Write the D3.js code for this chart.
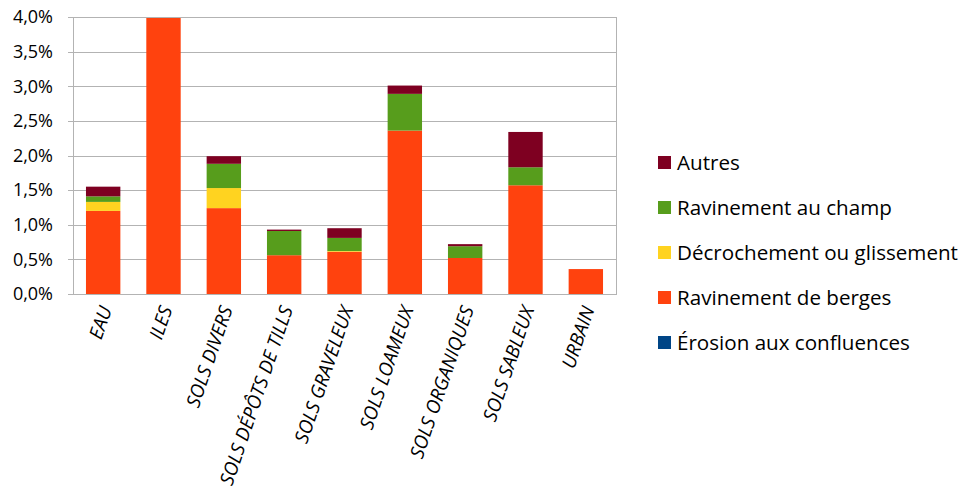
<!DOCTYPE html>
<html>
<head>
<meta charset="utf-8">
<script src="https://cdn.jsdelivr.net/npm/d3@7"></script>
<style>
  html, body { margin: 0; padding: 0; background: #fff; }
  svg { display: block; font-family: "Open Sans", sans-serif; }
</style>
</head>
<body>
<svg id="chart" width="967" height="500"></svg>
<script>
// Land-cover categories along the x axis
const categories = ["EAU", "ILES", "SOLS DIVERS", "SOLS DÉPÔTS DE TILLS", "SOLS GRAVELEUX",
  "SOLS LOAMEUX", "SOLS ORGANIQUES", "SOLS SABLEUX", "URBAIN"];

// Stacked series (percent), bottom to top
const erosionConfluences = [0, 0, 0, 0, 0, 0, 0, 0, 0];
const ravinementBerges   = [1.20, 4.00, 1.24, 0.56, 0.61, 2.36, 0.52, 1.57, 0.36];
const decrochement       = [0.13, 0, 0.29, 0, 0.01, 0, 0, 0, 0];
const ravinementChamp    = [0.08, 0, 0.35, 0.35, 0.19, 0.53, 0.17, 0.26, 0];
const autres             = [0.14, 0, 0.11, 0.02, 0.14, 0.12, 0.03, 0.51, 0];

const yTicks = [0, 0.5, 1.0, 1.5, 2.0, 2.5, 3.0, 3.5, 4.0];

const series = [
  { name: "Érosion aux confluences", values: erosionConfluences, color: "#004586" },
  { name: "Ravinement de berges", values: ravinementBerges, color: "#ff420e" },
  { name: "Décrochement ou glissement", values: decrochement, color: "#ffd320" },
  { name: "Ravinement au champ", values: ravinementChamp, color: "#579d1c" },
  { name: "Autres", values: autres, color: "#7e0021" }
];

const rows = categories.map((c, i) => {
  const r = { cat: c };
  series.forEach(s => r[s.name] = s.values[i]);
  return r;
});

const svg = d3.select("#chart");
const m = { left: 73, top: 17, right: 616, bottom: 294 };

const x = d3.scaleBand().domain(categories).range([m.left, m.right])
  .paddingInner(0.43).paddingOuter(0.215);
const y = d3.scaleLinear().domain([0, 4]).range([m.bottom, m.top]);

// Horizontal gridlines
svg.append("g").selectAll("line").data(yTicks).join("line")
  .attr("x1", m.left - 5).attr("x2", m.right)
  .attr("y1", d => Math.round(y(d)) + 0.5).attr("y2", d => Math.round(y(d)) + 0.5)
  .attr("stroke", "#b3b3b3").attr("stroke-width", 1);

// Stacked bars
const stack = d3.stack().keys(series.map(s => s.name));
const stacked = stack(rows);
svg.append("g").selectAll("g").data(stacked).join("g")
  .attr("fill", (d, i) => series[i].color)
  .selectAll("rect").data(d => d).join("rect")
  .attr("x", d => x(d.data.cat))
  .attr("width", x.bandwidth())
  .attr("y", d => y(Math.min(d[1], 4)))
  .attr("height", d => Math.max(0, y(d[0]) - y(Math.min(d[1], 4))));

// Plot frame
svg.append("rect")
  .attr("x", m.left + 0.5).attr("y", m.top + 0.5)
  .attr("width", m.right - m.left).attr("height", m.bottom - m.top)
  .attr("fill", "none").attr("stroke", "#b3b3b3");

// Y axis labels
const fmt = v => v.toFixed(1).replace(".", ",") + "%";
svg.append("g").selectAll("text").data(yTicks).join("text")
  .attr("x", 53).attr("y", d => y(d))
  .attr("dy", "0.35em")
  .attr("text-anchor", "end")
  .attr("font-size", 18).attr("fill", "#000")
  .text(fmt);

// X axis labels, rotated
svg.append("g").selectAll("text").data(categories).join("text")
  .attr("transform", d => `translate(${x(d) + x.bandwidth() / 2 + 9},${309}) rotate(-71)`)
  .attr("text-anchor", "end")
  .attr("font-size", 19).attr("font-style", "italic").attr("fill", "#000")
  .text(d => d);

// Legend (top series first)
const legendItems = series.slice().reverse();
const lg = svg.append("g").selectAll("g").data(legendItems).join("g")
  .attr("transform", (d, i) => `translate(658,${163 + i * 45})`);
lg.append("rect").attr("x", 0).attr("y", -7).attr("width", 13).attr("height", 13)
  .attr("fill", d => d.color);
lg.append("text").attr("x", 19).attr("y", 0).attr("dy", "0.35em")
  .attr("font-size", 20.6).attr("fill", "#000")
  .text(d => d.name);
</script>
</body>
</html>
